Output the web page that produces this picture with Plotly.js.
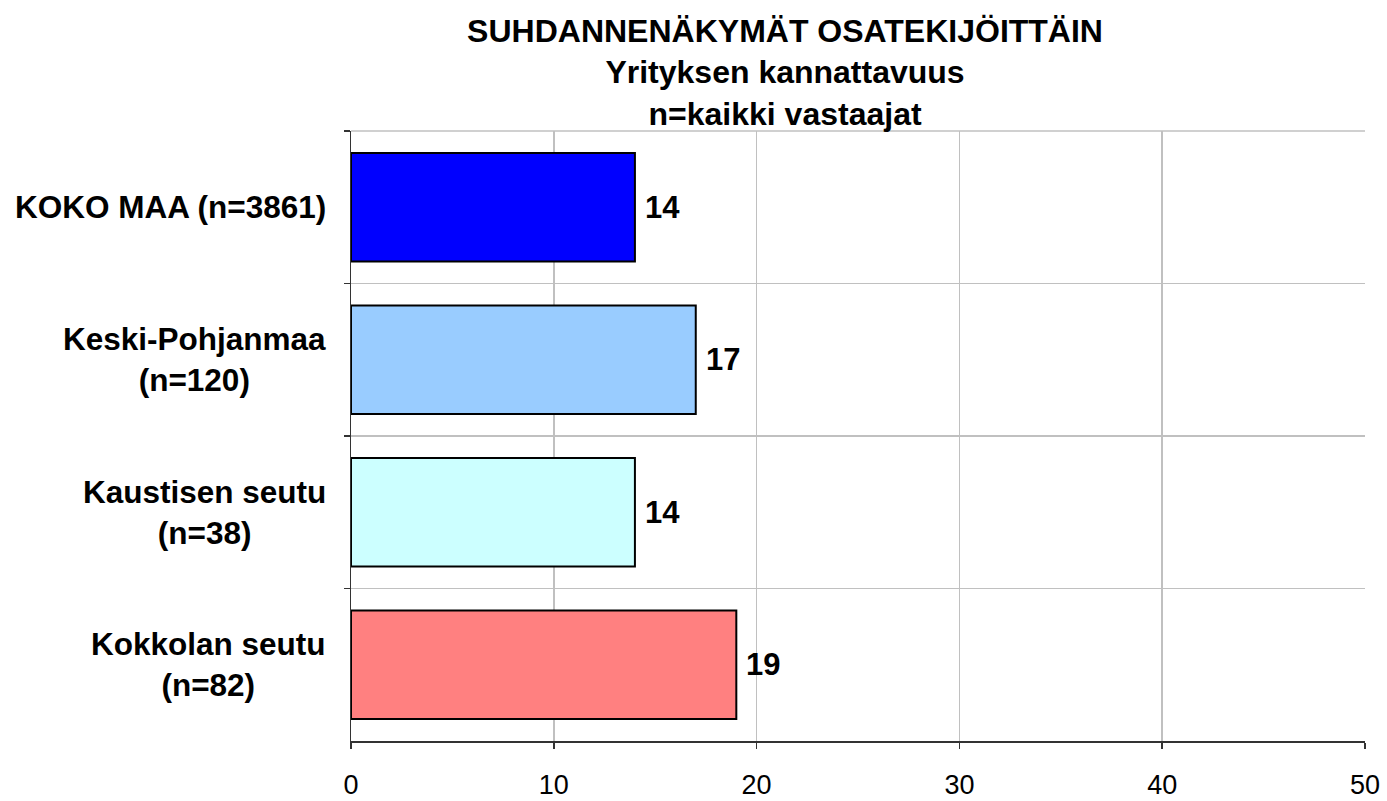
<!DOCTYPE html>
<html>
<head>
<meta charset="utf-8">
<script src="https://cdn.plot.ly/plotly-3.0.1.min.js"></script>
<style>html,body{margin:0;padding:0;background:#fff;}#chart{width:1387px;height:801px;}</style>
</head>
<body>
<div id="chart"></div>
<script>
const categories = ["KOKO MAA (n=3861)", "Keski-Pohjanmaa<br>(n=120)", "Kaustisen seutu<br>(n=38)", "Kokkolan seutu<br>(n=82)"];
const values = [14, 17, 14, 19];
const barColors = ["#0000FF", "#99CCFF", "#CCFFFF", "#FF8080"];
const titleLines = ["SUHDANNENÄKYMÄT OSATEKIJÖITTÄIN", "Yrityksen kannattavuus", "n=kaikki vastaajat"];
const xTicks = [0, 10, 20, 30, 40, 50];

const FONT = "Liberation Sans, Arial, sans-serif";

const trace = {
  type: "bar",
  orientation: "h",
  x: values,
  y: categories,
  marker: {color: barColors, line: {color: "#000000", width: 2}},
  hoverinfo: "x+y"
};

const annotations = [];
categories.forEach((c, i) => {
  annotations.push({
    x: 0, xref: "paper", y: c, yref: "y",
    text: "<b>" + c + "</b>", showarrow: false, xanchor: "right", align: "center",
    xshift: -23,
    font: {family: FONT, size: 31.5, color: "#000"}
  });
  annotations.push({
    x: values[i], xref: "x", y: c, yref: "y",
    text: "<b>" + values[i] + "</b>", showarrow: false, xanchor: "left",
    xshift: 8,
    font: {family: FONT, size: 31, color: "#000"}
  });
});

const layout = {
  width: 1387, height: 801,
  margin: {l: 351, r: 22, t: 131, b: 60},
  paper_bgcolor: "#fff", plot_bgcolor: "#fff",
  showlegend: false,
  bargap: 0.29,
  font: {family: FONT, color: "#000"},
  title: {
    text: "<b>" + titleLines.join("<br>") + "</b>",
    font: {family: FONT, size: 32, color: "#000"},
    x: 0.566, xref: "container", xanchor: "center",
    y: 0.948, yref: "container", yanchor: "top"
  },
  xaxis: {
    range: [0, 50], tickvals: xTicks, ticktext: xTicks.map(String),
    showgrid: true, gridcolor: "#c0c0c0", gridwidth: 1.5,
    showline: true, linecolor: "#333", linewidth: 1.5,
    ticks: "outside", ticklen: 6, tickcolor: "#333", tickwidth: 1.5,
    ticklabelstandoff: 13,
    tickfont: {family: FONT, size: 27, color: "#000"},
    zeroline: false, fixedrange: true
  },
  yaxis: {
    type: "category", autorange: "reversed",
    tickson: "boundaries",
    showticklabels: false,
    showgrid: true, gridcolor: "#c0c0c0", gridwidth: 1.5,
    showline: true, linecolor: "#333", linewidth: 1.5,
    ticks: "outside", ticklen: 6, tickcolor: "#333", tickwidth: 1.5,
    zeroline: false, fixedrange: true
  },
  shapes: [{
    type: "line", xref: "paper", yref: "paper", x0: 0, x1: 1, y0: 1, y1: 1,
    line: {color: "#c0c0c0", width: 1.5}, layer: "below"
  }],
  annotations: annotations
};

Plotly.newPlot("chart", [trace], layout, {displayModeBar: false, staticPlot: true});
</script>
</body>
</html>
